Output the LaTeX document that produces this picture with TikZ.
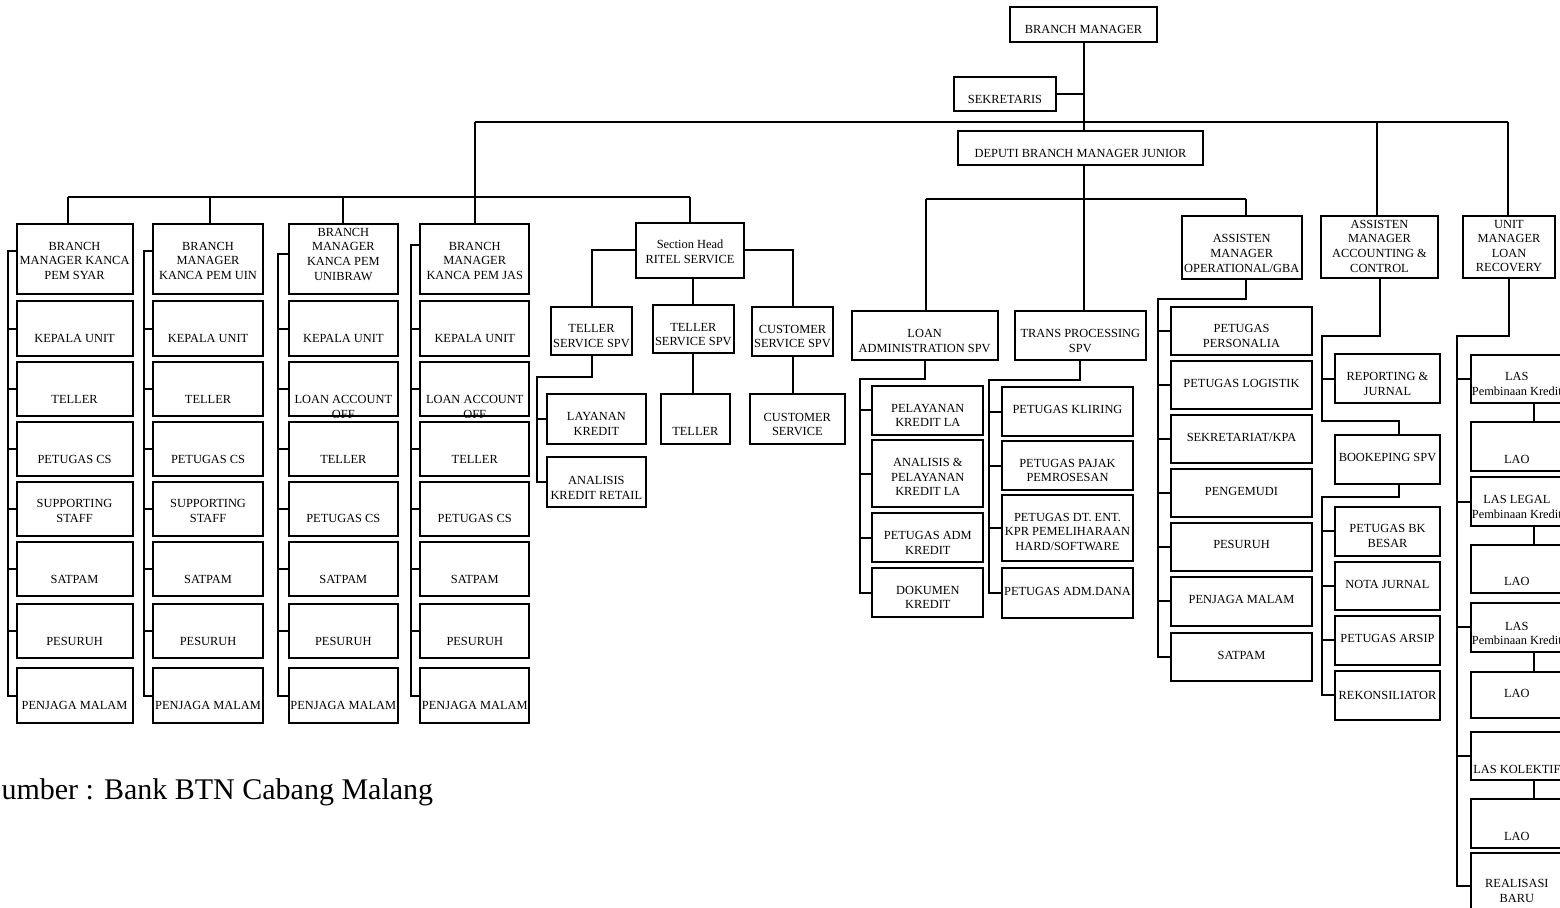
\documentclass[tikz,border=0pt]{standalone}
\usepackage{fontspec}
\setmainfont{Liberation Serif}
\usetikzlibrary{fit,calc}

\newcommand{\orgfont}{\fontsize{6.2pt}{7.3pt}\selectfont}

\tikzset{
  orgbox/.style={draw, line width=1pt, inner sep=0pt},
  txt/.style={inner sep=0pt, align=center, font=\orgfont},
  tx/.style 2 args={label={[txt, yshift=#1]center:{#2}}},
  conn/.style={line width=1pt}
}

\begin{document}
\begin{tikzpicture}[x=0.5pt, y=-0.5pt]
\useasboundingbox (0,0) rectangle (1560,908);

% pimpinan
\node[orgbox, fit={(1010,7) (1157,42)}, tx={-2.5pt}{BRANCH MANAGER}] (bm) {};
\node[orgbox, fit={(954,77) (1056,111)}, tx={-2.5pt}{SEKRETARIS}] (sek) {};
\node[orgbox, fit={(958,131) (1203,165)}, tx={-2.5pt}{DEPUTI BRANCH MANAGER JUNIOR}] (dbm) {};

% kanca pembantu
\node[orgbox, fit={(16.5,224.4) (132.6,294)}, tx={-0.75pt}{BRANCH\\MANAGER KANCA\\PEM SYAR}] (h1) {};
\node[orgbox, fit={(153.3,224.4) (262.8,294)}, tx={-0.75pt}{BRANCH\\MANAGER\\KANCA PEM UIN}] (h2) {};
\node[orgbox, fit={(288.6,224.4) (398.1,294)}, tx={2.5pt}{BRANCH\\MANAGER\\KANCA PEM\\UNIBRAW}] (h3) {};
\node[orgbox, fit={(420.2,224.4) (529.3,294)}, tx={-0.75pt}{BRANCH\\MANAGER\\KANCA PEM JAS}] (h4) {};

\foreach \c/\xa/\xb in {1/16.5/132.6, 2/153.3/262.8} {
  \node[orgbox, fit={(\xa,301.2) (\xb,356.3)}, tx={-5pt}{KEPALA UNIT}] (c\c-1) {};
  \node[orgbox, fit={(\xa,362.2) (\xb,416.3)}, tx={-5pt}{TELLER}] (c\c-2) {};
  \node[orgbox, fit={(\xa,422.5) (\xb,476.5)}, tx={-5pt}{PETUGAS CS}] (c\c-3) {};
  \node[orgbox, fit={(\xa,481.7) (\xb,535.8)}, tx={-1pt}{SUPPORTING\\STAFF}] (c\c-4) {};
  \node[orgbox, fit={(\xa,542) (\xb,596.4)}, tx={-5pt}{SATPAM}] (c\c-5) {};
  \node[orgbox, fit={(\xa,604.3) (\xb,658.4)}, tx={-5pt}{PESURUH}] (c\c-6) {};
  \node[orgbox, fit={(\xa,668) (\xb,723.1)}, tx={-5pt}{PENJAGA MALAM}] (c\c-7) {};
}
\foreach \c/\xa/\xb in {3/288.6/398.1, 4/420.2/529.3} {
  \node[orgbox, fit={(\xa,301.2) (\xb,356.3)}, tx={-5pt}{KEPALA UNIT}] (c\c-1) {};
  \node[orgbox, fit={(\xa,362.2) (\xb,416.3)}, tx={-5pt}{LOAN ACCOUNT}] (c\c-2) {};
  \begin{scope}
    \clip (c\c-2.north west) rectangle (c\c-2.south east);
    \node[txt] (c\c-2b) at ([yshift=-12.4pt]c\c-2.center) {OFF};
  \end{scope}
  \node[orgbox, fit={(\xa,422.5) (\xb,476.5)}, tx={-5pt}{TELLER}] (c\c-3) {};
  \node[orgbox, fit={(\xa,481.7) (\xb,535.8)}, tx={-5pt}{PETUGAS CS}] (c\c-4) {};
  \node[orgbox, fit={(\xa,542) (\xb,596.4)}, tx={-5pt}{SATPAM}] (c\c-5) {};
  \node[orgbox, fit={(\xa,604.3) (\xb,658.4)}, tx={-5pt}{PESURUH}] (c\c-6) {};
  \node[orgbox, fit={(\xa,668) (\xb,723.1)}, tx={-5pt}{PENJAGA MALAM}] (c\c-7) {};
}

% ritel service
\node[orgbox, fit={(636,222.7) (744,278)}, tx={-0.85pt}{Section Head\\RITEL SERVICE}] (ritel) {};
\node[orgbox, fit={(551,306.7) (632,355.3)}, tx={-2.5pt}{TELLER\\SERVICE SPV}] (tsv1) {};
\node[orgbox, fit={(652.7,305) (734,353.3)}, tx={-2.75pt}{TELLER\\SERVICE SPV}] (tsv2) {};
\node[orgbox, fit={(751.7,307.3) (833.3,356)}, tx={-2.5pt}{CUSTOMER\\SERVICE SPV}] (csv) {};
\node[orgbox, fit={(547,394) (645.7,443.7)}, tx={-2.5pt}{LAYANAN\\KREDIT}] (lay) {};
\node[orgbox, fit={(547,457) (645.7,506.7)}, tx={-3pt}{ANALISIS\\KREDIT RETAIL}] (akr) {};
\node[orgbox, fit={(660.7,394) (730,444)}, tx={-6pt}{TELLER}] (tel) {};
\node[orgbox, fit={(749.7,394) (845,444)}, tx={-2.75pt}{CUSTOMER\\SERVICE}] (cs) {};

% loan admin & trans processing
\node[orgbox, fit={(851.7,311.4) (997.7,360.3)}, tx={-2.5pt}{LOAN\\ADMINISTRATION SPV}] (lad) {};
\node[orgbox, fit={(1015,311.4) (1145.7,360.3)}, tx={-2.5pt}{TRANS PROCESSING\\SPV}] (tps) {};
\node[orgbox, fit={(872.3,385.8) (983.3,434.7)}, tx={-2.5pt}{PELAYANAN\\KREDIT LA}] (pkl) {};
\node[orgbox, fit={(872.3,440.2) (983.3,507)}, tx={-1.75pt}{ANALISIS \&\\PELAYANAN\\KREDIT LA}] (apk) {};
\node[orgbox, fit={(872.3,513.2) (983.3,562.1)}, tx={-2.5pt}{PETUGAS ADM\\KREDIT}] (pak) {};
\node[orgbox, fit={(872.3,568.3) (983.3,617.2)}, tx={-2.3pt}{DOKUMEN\\KREDIT}] (dok) {};
\node[orgbox, fit={(1001.7,386.8) (1133.3,436.4)}, tx={0.85pt}{PETUGAS KLIRING}] (kli) {};
\node[orgbox, fit={(1001.7,440.9) (1133.3,490.2)}, tx={-2.5pt}{PETUGAS PAJAK\\PEMROSESAN}] (paj) {};
\node[orgbox, fit={(1001.7,495.3) (1133.3,561.4)}, tx={-1.8pt}{PETUGAS DT. ENT.\\KPR PEMELIHARAAN\\HARD/SOFTWARE}] (dte) {};
\node[orgbox, fit={(1001.7,568.3) (1133.3,618.2)}, tx={0.9pt}{PETUGAS ADM.DANA}] (dana) {};

% operational
\node[orgbox, fit={(1181.7,216) (1301.7,279)}, tx={-3pt}{ASSISTEN\\MANAGER\\OPERATIONAL/GBA}] (aop) {};
\node[orgbox, fit={(1170.7,307) (1312.3,355.3)}, tx={-2.5pt}{PETUGAS\\PERSONALIA}] (pers) {};
\node[orgbox, fit={(1170.7,360.7) (1312.3,409.3)}, tx={1pt}{PETUGAS LOGISTIK}] (log) {};
\node[orgbox, fit={(1170.7,415) (1312.3,463.3)}, tx={0.75pt}{SEKRETARIAT/KPA}] (skpa) {};
\node[orgbox, fit={(1170.7,469.3) (1312.3,517.3)}, tx={0.75pt}{PENGEMUDI}] (peng) {};
\node[orgbox, fit={(1170.7,522.7) (1312.3,571.3)}, tx={1.2pt}{PESURUH}] (pesr) {};
\node[orgbox, fit={(1170.7,577) (1312.3,626)}, tx={0.85pt}{PENJAGA MALAM}] (pjm) {};
\node[orgbox, fit={(1170.7,632.7) (1312.3,681)}, tx={0.65pt}{SATPAM}] (stp) {};

% accounting
\node[orgbox, fit={(1321,216) (1438,278.3)}, tx={0.5pt}{ASSISTEN\\MANAGER\\ACCOUNTING \&\\CONTROL}] (acc) {};
\node[orgbox, fit={(1335,354) (1440,403.3)}, tx={-2.5pt}{REPORTING \&\\JURNAL}] (rep) {};
\node[orgbox, fit={(1335,435) (1440,484)}, tx={0.9pt}{BOOKEPING SPV}] (bk) {};
\node[orgbox, fit={(1335,506.7) (1440,555.7)}, tx={-2.5pt}{PETUGAS BK\\BESAR}] (bkb) {};
\node[orgbox, fit={(1335,561.7) (1440,610)}, tx={0.85pt}{NOTA JURNAL}] (nota) {};
\node[orgbox, fit={(1335,616) (1440,665)}, tx={0.85pt}{PETUGAS ARSIP}] (arsip) {};
\node[orgbox, fit={(1335,671) (1440,720)}, tx={0pt}{REKONSILIATOR}] (rek) {};

% loan recovery
\node[orgbox, fit={(1463,216) (1555,278)}, tx={0.5pt}{UNIT\\MANAGER\\LOAN\\RECOVERY}] (um) {};
\node[orgbox, fit={(1470.7,354.7) (1563,403.3)}, tx={-2.5pt}{LAS\\Pembinaan Kredit}] (las1) {};
\node[orgbox, fit={(1470.7,422.3) (1563,471)}, tx={-6.5pt}{LAO}] (lao1) {};
\node[orgbox, fit={(1470.7,477.3) (1563,526)}, tx={-2.75pt}{LAS LEGAL\\Pembinaan Kredit}] (las2) {};
\node[orgbox, fit={(1470.7,545) (1563,593.3)}, tx={-6.25pt}{LAO}] (lao2) {};
\node[orgbox, fit={(1470.7,603.3) (1563,651.7)}, tx={-3pt}{LAS\\Pembinaan Kredit}] (las3) {};
\node[orgbox, fit={(1470.7,671.7) (1563,718.3)}, tx={0.85pt}{LAO}] (lao3) {};
\node[orgbox, fit={(1470.7,731.7) (1563,780)}, tx={-6.75pt}{LAS KOLEKTIF}] (lask) {};
\node[orgbox, fit={(1470.7,799) (1563,847.7)}, tx={-6.35pt}{LAO}] (lao4) {};
\node[orgbox, fit={(1470.7,852.7) (1563,919.3)}, tx={-2.5pt}{REALISASI\\BARU}] (rb) {};

% garis utama
\draw[conn] (bm.south) -- (bm.south |- dbm.north);
\draw[conn] (sek.east) -- (sek.east -| bm.south);
\coordinate (bl) at (475,122);
\coordinate (ba) at (1377,122);
\coordinate (br) at (1508,122);
\draw[conn] (bl) -- (br);
\draw[conn] (bl) -- (bl |- h4.north);
\draw[conn] (ba) -- (ba |- acc.north);
\draw[conn] (br) -- (br |- um.north);

% kanca bus
\coordinate (k1) at (68,197);
\coordinate (k2) at (210,197);
\coordinate (k3) at (342.7,197);
\coordinate (k5) at (690,197);
\draw[conn] (k1) -- (k5);
\foreach \c in {1,2,3}
  \draw[conn] (k\c) -- (k\c |- h\c.north);
\draw[conn] (k5) -- (k5 |- ritel.north);

\foreach \c/\s/\t in {1/7.6/251, 2/144/251, 3/278.3/253.7, 4/410.5/245} {
  \coordinate (s\c) at (\s,\t);
  \draw[conn] (h\c.west |- s\c) -- (s\c) |- (c\c-7.west);
  \foreach \r in {1,...,6}
    \draw[conn] (c\c-\r.west) -- (c\c-\r.west -| s\c);
}

% ritel
\draw[conn] (ritel.west) -| (tsv1.north);
\draw[conn] (ritel.east) -| (csv.north);
\draw[conn] (tsv2.north |- ritel.south) -- (tsv2.north);
\coordinate (rt) at (537.3,376.7);
\draw[conn] (tsv1.south) |- (rt) |- (akr.west);
\draw[conn] (lay.west) -- (lay.west -| rt);
\draw[conn] (tsv2.south) -- (tsv2.south |- tel.north);
\draw[conn] (csv.south) -- (csv.south |- cs.north);

% deputi
\coordinate (d1) at (926,199);
\coordinate (d3) at (1246,199);
\draw[conn] (bm.south |- dbm.south) -- (bm.south |- tps.north);
\draw[conn] (d1) -- (d3);
\draw[conn] (d1) -- (d1 |- lad.north);
\draw[conn] (d3) -- (d3 |- aop.north);

\coordinate (la) at (860,378.9);
\draw[conn] (lad.south) |- (la) |- (dok.west);
\foreach \n in {pkl,apk,pak}
  \draw[conn] (\n.west) -- (\n.west -| la);
\coordinate (tp) at (989,379.6);
\draw[conn] (tps.south) |- (tp) |- (dana.west);
\foreach \n in {kli,paj,dte}
  \draw[conn] (\n.west) -- (\n.west -| tp);

% operational
\coordinate (op) at (1157.5,299.3);
\draw[conn] (aop.south -| d3) |- (op) |- (stp.west);
\foreach \n in {pers,log,skpa,peng,pesr,pjm}
  \draw[conn] (\n.west) -- (\n.west -| op);

% accounting
\coordinate (ac) at (1322.3,336);
\coordinate (bkx) at (1399.3,421);
\coordinate (ab) at (1322.3,496.7);
\draw[conn] (acc.south) |- (ac) |- (bkx) -- (bkx |- bk.north);
\draw[conn] (rep.west) -- (rep.west -| ac);
\draw[conn] (bkx |- bk.south) |- (ab) |- (rek.west);
\foreach \n in {bkb,nota,arsip}
  \draw[conn] (\n.west) -- (\n.west -| ab);

% loan recovery
\coordinate (uk) at (1457.3,336);
\coordinate (ux) at (1534,0);
\draw[conn] (um.south) |- (uk) |- (rb.west);
\foreach \n in {las1,las2,las3,lask}
  \draw[conn] (\n.west) -- (\n.west -| uk);
\foreach \a/\b in {las1/lao1, las2/lao2, las3/lao3, lask/lao4}
  \draw[conn] (\a.south -| ux) -- (\b.north -| ux);

% sumber
\node[anchor=base west, inner sep=0pt, font=\fontsize{15pt}{18pt}\selectfont] (src) at (-15.5,800) {Sumber : Bank BTN Cabang Malang};
\end{tikzpicture}
\end{document}
